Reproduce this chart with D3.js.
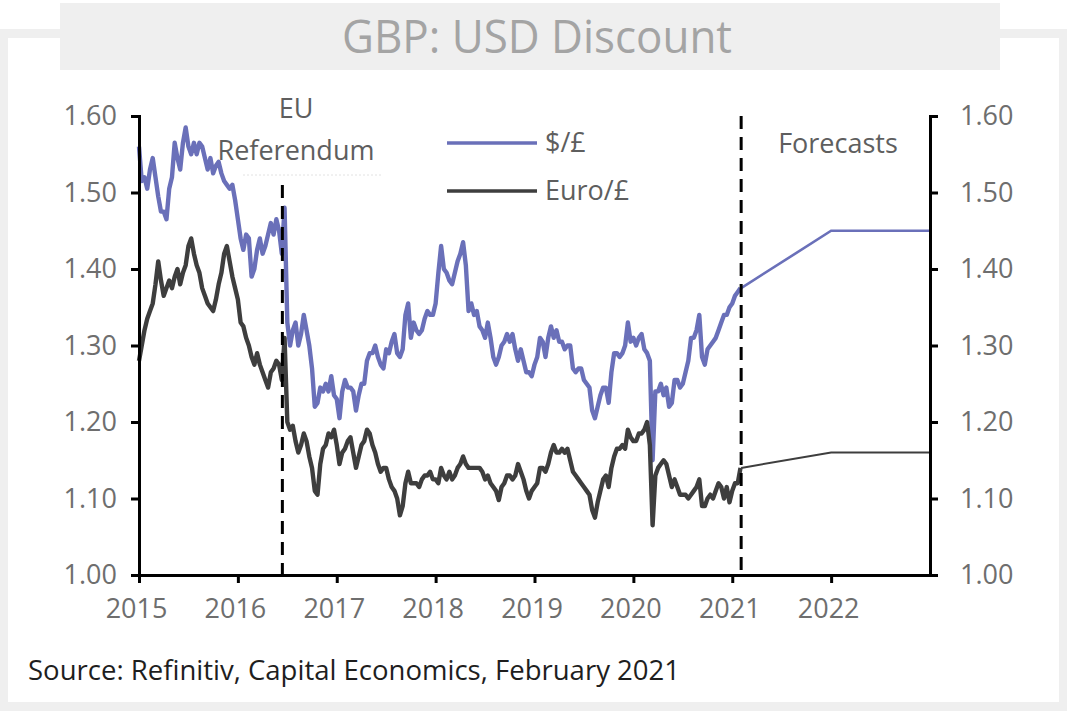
<!DOCTYPE html>
<html><head><meta charset="utf-8">
<script src="https://cdn.jsdelivr.net/npm/d3@7"></script>
<style>
body{margin:0;background:#fff}
svg{display:block;font-family:"Open Sans","Noto Sans",sans-serif}
</style>
</head><body>
<svg id="chart" width="1067" height="711"></svg>
<script>
// ---------- data ----------
const titleText = "GBP: USD Discount";
const sourceText = "Source: Refinitiv, Capital Economics, February 2021";
const seriesNames = ["$/£", "Euro/£"];
const yTicks = [1.00, 1.10, 1.20, 1.30, 1.40, 1.50, 1.60];
const xTicks = [2015, 2016, 2017, 2018, 2019, 2020, 2021, 2022];
const xTickLabels = ["2015", "2016", "2017", "2018", "2019", "2020", "2021", "2022"];
const xDomain = [2015, 2023];
const yDomain = [1.00, 1.60];

// historical values, three readings per month (1st, 11th, 21st) from Jan 2015 to 1 Feb 2021
const histStartYear = 2015;
const readingsPerYear = 36;
const usdHist = [
  // 2015
  1.560,1.515,1.520, 1.505,1.530,1.545, 1.520,1.495,1.475, 1.475,1.465,1.505,
  1.520,1.565,1.545, 1.530,1.565,1.585, 1.560,1.550,1.565, 1.550,1.565,1.560,
  1.545,1.530,1.545, 1.525,1.535,1.540, 1.525,1.515,1.510, 1.505,1.510,1.490,
  // 2016
  1.465,1.440,1.425, 1.445,1.440,1.390, 1.400,1.425,1.440, 1.420,1.430,1.445,
  1.460,1.445,1.465, 1.450,1.420,1.480, 1.330,1.300,1.320, 1.330,1.300,1.315,
  1.340,1.320,1.300, 1.270,1.220,1.225, 1.245,1.240,1.250, 1.240,1.260,1.235,
  // 2017
  1.230,1.205,1.240, 1.255,1.245,1.245, 1.240,1.215,1.235, 1.250,1.250,1.280,
  1.290,1.290,1.300, 1.285,1.275,1.270, 1.295,1.290,1.305, 1.315,1.290,1.285,
  1.295,1.340,1.355, 1.310,1.330,1.320, 1.315,1.320,1.335, 1.345,1.340,1.340,
  // 2018
  1.355,1.395,1.430, 1.400,1.395,1.385, 1.380,1.395,1.410, 1.420,1.435,1.405,
  1.345,1.355,1.340, 1.345,1.325,1.320, 1.310,1.330,1.310, 1.285,1.275,1.285,
  1.300,1.305,1.315, 1.305,1.315,1.295, 1.280,1.295,1.280, 1.265,1.265,1.260,
  // 2019
  1.275,1.285,1.310, 1.305,1.285,1.310, 1.325,1.310,1.320, 1.305,1.305,1.295,
  1.300,1.300,1.270, 1.265,1.270,1.270, 1.255,1.250,1.245, 1.215,1.205,1.220,
  1.235,1.245,1.245, 1.225,1.265,1.290, 1.290,1.285,1.290, 1.300,1.330,1.305,
  // 2020
  1.310,1.300,1.310, 1.315,1.295,1.290, 1.280,1.150,1.240, 1.240,1.250,1.235,
  1.245,1.220,1.225, 1.255,1.255,1.245, 1.250,1.265,1.280, 1.310,1.310,1.320,
  1.340,1.285,1.275, 1.295,1.300,1.305, 1.310,1.320,1.330, 1.340,1.340,1.350,
  // 2021
  1.355,1.365,1.370, 1.375
];
const euroHist = [
  // 2015
  1.280,1.300,1.320, 1.335,1.345,1.355, 1.380,1.410,1.385, 1.365,1.375,1.385,
  1.375,1.390,1.400, 1.380,1.395,1.405, 1.430,1.440,1.420, 1.405,1.395,1.375,
  1.365,1.355,1.350, 1.345,1.360,1.380, 1.395,1.420,1.430, 1.410,1.390,1.375,
  // 2016
  1.360,1.330,1.325, 1.310,1.300,1.285, 1.275,1.290,1.275, 1.265,1.255,1.245,
  1.265,1.270,1.280, 1.275,1.255,1.310, 1.200,1.190,1.195, 1.175,1.160,1.170,
  1.185,1.175,1.155, 1.140,1.110,1.105, 1.145,1.165,1.170, 1.185,1.180,1.190,
  // 2017
  1.170,1.145,1.160, 1.165,1.175,1.180, 1.160,1.140,1.155, 1.170,1.175,1.190,
  1.185,1.170,1.160, 1.145,1.135,1.140, 1.140,1.125,1.115, 1.110,1.100,1.078,
  1.090,1.120,1.135, 1.120,1.120,1.120, 1.115,1.125,1.130, 1.130,1.135,1.125,
  // 2018
  1.125,1.120,1.140, 1.130,1.125,1.135, 1.125,1.130,1.140, 1.145,1.155,1.145,
  1.140,1.140,1.140, 1.140,1.140,1.135, 1.125,1.130,1.120, 1.115,1.110,1.098,
  1.115,1.120,1.130, 1.130,1.125,1.130, 1.145,1.135,1.125, 1.110,1.100,1.110,
  // 2019
  1.115,1.120,1.140, 1.140,1.135,1.145, 1.160,1.170,1.160, 1.160,1.165,1.160,
  1.165,1.150,1.135, 1.130,1.125,1.120, 1.115,1.110,1.105, 1.085,1.075,1.095,
  1.110,1.125,1.130, 1.115,1.140,1.155, 1.165,1.165,1.170, 1.165,1.190,1.180,
  // 2020
  1.175,1.175,1.185, 1.185,1.190,1.200, 1.170,1.065,1.130, 1.140,1.145,1.150,
  1.145,1.130,1.115, 1.125,1.115,1.105, 1.105,1.105,1.100, 1.105,1.110,1.115,
  1.125,1.090,1.090, 1.100,1.105,1.100, 1.110,1.120,1.115, 1.100,1.115,1.095,
  // 2021
  1.110,1.120,1.120, 1.140
];
const forecastYears = [2021.09, 2022, 2023];
const usdForecast = [1.375, 1.45, 1.45];
const euroForecast = [1.14, 1.16, 1.16];
const referendumYear = 2016.45;
const forecastStartYear = 2021.09;

// ---------- drawing ----------
const W = 1067, H = 711;
const svg = d3.select("#chart");
const blue = "#6a70b9", dark = "#3e3e3e", tickGrey = "#6e6e6e";

// frame
svg.append("rect").attr("x",0).attr("y",0).attr("width",W).attr("height",H).attr("fill","#fff");
svg.append("rect").attr("x",0).attr("y",29).attr("width",W).attr("height",H-29).attr("fill","#efefef");
svg.append("rect").attr("x",8).attr("y",38).attr("width",1051).attr("height",664).attr("fill","#fff");
svg.append("rect").attr("x",60).attr("y",3).attr("width",940).attr("height",67).attr("fill","#efefef");
svg.append("text").attr("x",537).attr("y",53).attr("text-anchor","middle")
  .attr("font-size",46).attr("fill","#a4a4a4")
  .attr("textLength",390).attr("lengthAdjust","spacingAndGlyphs").text(titleText);
svg.append("text").attr("x",28).attr("y",680)
  .attr("font-size",27).attr("fill","#1e1e1e")
  .attr("textLength",652).attr("lengthAdjust","spacingAndGlyphs").text(sourceText);

const x = d3.scaleLinear().domain(xDomain).range([139, 930]);
const y = d3.scaleLinear().domain(yDomain).range([575, 116]);

const toPts = vals => vals.map((v,i) => [histStartYear + i/readingsPerYear, v]);
const line = d3.line().x(d => x(d[0])).y(d => y(d[1]));

const plot = svg.append("g");
plot.append("path").datum(toPts(usdHist)).attr("d",line)
  .attr("fill","none").attr("stroke",blue).attr("stroke-width",4.4).attr("stroke-linejoin","round");
plot.append("path").datum(forecastYears.map((t,i)=>[t,usdForecast[i]])).attr("d",line)
  .attr("fill","none").attr("stroke",blue).attr("stroke-width",2.6);
plot.append("path").datum(toPts(euroHist)).attr("d",line)
  .attr("fill","none").attr("stroke",dark).attr("stroke-width",4.4).attr("stroke-linejoin","round");
plot.append("path").datum(forecastYears.map((t,i)=>[t,euroForecast[i]])).attr("d",line)
  .attr("fill","none").attr("stroke",dark).attr("stroke-width",2);

// vertical dashed markers
svg.append("line").attr("x1",x(referendumYear)).attr("x2",x(referendumYear))
  .attr("y1",185).attr("y2",y(1.0))
  .attr("stroke","#000").attr("stroke-width",3).attr("stroke-dasharray","13,8");
svg.append("line").attr("x1",x(forecastStartYear)).attr("x2",x(forecastStartYear))
  .attr("y1",y(1.6)).attr("y2",y(1.0))
  .attr("stroke","#000").attr("stroke-width",3).attr("stroke-dasharray","13,8");

// faint dotted line under annotation
svg.append("line").attr("x1",243).attr("x2",382).attr("y1",175).attr("y2",175)
  .attr("stroke","#e2e2e2").attr("stroke-width",1).attr("stroke-dasharray","2,2");

// axes
function styleAxis(g){
  g.select(".domain").attr("stroke","#000").attr("stroke-width",3).attr("stroke-linecap","square");
  g.selectAll(".tick line").attr("stroke","#000").attr("stroke-width",3);
  g.selectAll(".tick text").attr("fill",tickGrey).attr("font-size",27)
    .attr("font-family",'"Open Sans","Noto Sans",sans-serif');
}
const fmt = d3.format(".2f");
svg.append("g").attr("transform",`translate(${x(2015)},0)`)
  .call(d3.axisLeft(y).tickValues(yTicks).tickFormat(fmt).tickSize(8).tickSizeOuter(0).tickPadding(14))
  .call(styleAxis);
svg.append("g").attr("transform",`translate(${x(2023)},0)`)
  .call(d3.axisRight(y).tickValues(yTicks).tickFormat(fmt).tickSize(8).tickSizeOuter(0).tickPadding(22))
  .call(styleAxis);
const xg = svg.append("g").attr("transform",`translate(0,${y(1.0)})`)
  .call(d3.axisBottom(x).tickValues(xTicks).tickFormat((d,i)=>xTickLabels[i]).tickSize(8).tickSizeOuter(0).tickPadding(16))
  .call(styleAxis);
xg.selectAll(".tick text").attr("dx",-3);

// annotations
const annot = (t,xx,yy) => svg.append("text").attr("x",xx).attr("y",yy).attr("text-anchor","middle")
  .attr("font-size",27).attr("fill","#5e5e5e").text(t);
annot("EU",296,118);
annot("Referendum",296,160);
annot("Forecasts",838,153);

// legend
const legend = [{name:seriesNames[0], color:blue, cy:143},{name:seriesNames[1], color:dark, cy:191}];
legend.forEach(l => {
  svg.append("line").attr("x1",447).attr("x2",537).attr("y1",l.cy).attr("y2",l.cy)
    .attr("stroke",l.color).attr("stroke-width",3.6);
  svg.append("text").attr("x",545).attr("y",l.cy).attr("dy","0.35em")
    .attr("font-size",27).attr("fill","#5e5e5e").text(l.name);
});
</script>
</body></html>
